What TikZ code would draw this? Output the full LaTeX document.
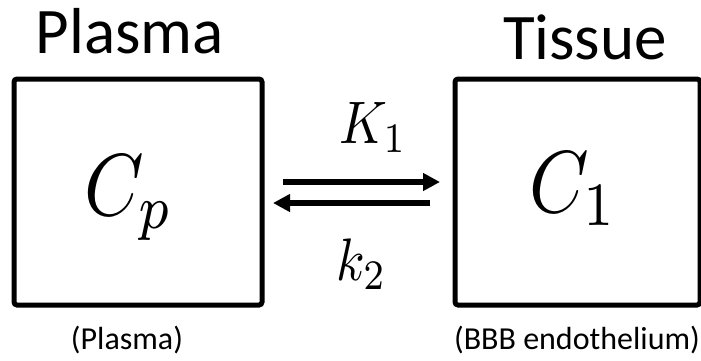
\documentclass[tikz,border=0pt]{standalone}
\usepackage{graphicx}
\usepackage[no-math]{fontspec}
\setmainfont{Carlito}
\usetikzlibrary{arrows.meta}
\newcommand{\bigmath}[3]{\scalebox{#1}[#2]{$#3$}}

\begin{document}
\begin{tikzpicture}[
  x=0.5pt, y=-0.5pt,
  comp/.style={draw, line width=2.5pt, rounded corners=1.5pt,
               outer sep=0pt, inner sep=0pt},
  title/.style={anchor=base, inner sep=0pt, font=\fontsize{32.5}{36}\selectfont},
  note/.style={anchor=base, inner sep=0pt, font=\fontsize{16}{19}\selectfont},
  conc/.style={anchor=base west, inner sep=0pt},
  rate/.style={anchor=base west, inner sep=0pt},
  flow/.style={line width=3pt, -{Triangle[length=8.5pt, width=8.5pt]}},
]
\fill[white] (0,0) rectangle (701,360);
\useasboundingbox (0,0) rectangle (701,360);

\node[comp, minimum width=124pt, minimum height=113pt] (cp) at (138,192) {};
\node[comp, minimum width=122.5pt, minimum height=113pt] (c1) at (577.5,192) {};

\node[conc] (lcp) at (84,215) {\bigmath{3.8}{4.4}{C_p}};
\node[conc] (lc1) at (529,212) {\bigmath{3.8}{4.4}{C_1}};

\node[title] (tplasma) at (130,53) {Plasma};
\node[title] (ttissue) at (585,59) {Tissue};
\node[note] (nplasma) at (127,349) {(Plasma)};
\node[note] (nbbb) at (577,349) {(BBB endothelium)};

% exchange between the two compartments
\draw[flow] ([shift={(21,-10)}]cp.east) -- ([shift={(-15,-10)}]c1.west);
\draw[flow] ([shift={(-25,11)}]c1.west) -- ([shift={(11,11)}]cp.east);
\node[rate] (kin) at (339,143) {\bigmath{2.6}{3}{K_1}};
\node[rate] (kout) at (336,280) {\bigmath{2.6}{3}{k_2}};
\end{tikzpicture}
\end{document}
